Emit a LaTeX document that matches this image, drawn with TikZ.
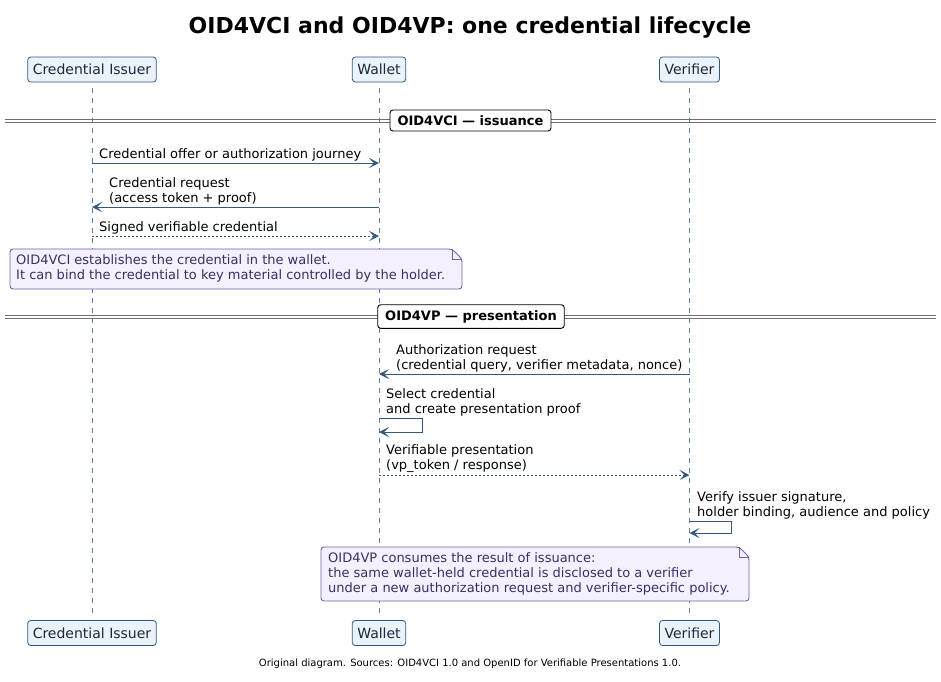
\documentclass[tikz,border=0pt]{standalone}
\usepackage{fontspec}
\setmainfont{DejaVu Sans}
\usetikzlibrary{arrows.meta}
\definecolor{partfill}{HTML}{EAF2FA}
\definecolor{partdraw}{HTML}{2F5883}
\definecolor{parttext}{HTML}{1B2A3A}
\definecolor{lifecol}{HTML}{5A7FA8}
\definecolor{arrcol}{HTML}{35587F}
\definecolor{notefill}{HTML}{F4F0FE}
\definecolor{notedraw}{HTML}{7460A8}
\definecolor{notetext}{HTML}{3C2F63}
\definecolor{divcol}{HTML}{707070}
\tikzset{
  participant/.style={draw=partdraw, fill=partfill, rounded corners=3pt, line width=0.8pt,
    minimum height=25pt, inner xsep=5pt, inner ysep=0pt, text=parttext,
    font=\fontsize{14}{16}\selectfont},
  lifeline/.style={draw=lifecol, line width=0.7pt, dash pattern=on 5pt off 5pt},
  msg/.style={draw=arrcol, line width=1pt, -{Stealth[length=10pt,width=10pt,inset=5pt]}},
  rmsg/.style={msg, dash pattern=on 2pt off 2pt},
  msgtext/.style={anchor=south west, inner sep=0pt, align=left, font=\fontsize{13}{15}\selectfont},
  notetxt/.style={anchor=north west, inner sep=0pt, align=left, text=notetext, font=\fontsize{13}{15.3}\selectfont},
  divlabel/.style={draw=black, fill=white, rounded corners=3pt, line width=0.9pt,
    inner xsep=7.5pt, inner ysep=5.5pt, font=\bfseries\fontsize{13}{15}\selectfont},
  divline/.style={draw=divcol, line width=0.9pt},
  notebox/.style={draw=notedraw, fill=notefill, line width=0.9pt}
}
\begin{document}
\begin{tikzpicture}[x=1pt,y=-1pt]
\useasboundingbox (0,0) rectangle (941,681);
\fill[white] (0,0) rectangle (941,681);

% title
\node[font=\bfseries\fontsize{22}{26}\selectfont] (title) at (470,28) {OID4VCI and OID4VP: one credential lifecycle};

% lifelines
\draw[lifeline] (92,88) -- (92,615);
\draw[lifeline] (379,88) -- (379,615);
\draw[lifeline] (689.5,88) -- (689.5,615);

% participants
\node[participant] (ciT) at (92,69.5) {Credential Issuer};
\node[participant] (wT) at (379,69.5) {Wallet};
\node[participant] (vT) at (689.5,69.5) {Verifier};
\node[participant] (ciB) at (92,633) {Credential Issuer};
\node[participant] (wB) at (379,633) {Wallet};
\node[participant] (vB) at (689.5,633) {Verifier};

% divider 1
\draw[divline] (5,119.5) -- (936,119.5);
\draw[divline] (5,122.5) -- (936,122.5);
\node[divlabel] (d1) at (470.5,120.5) {OID4VCI — issuance};

% messages phase 1
\coordinate (m1a) at (92,163); \coordinate (m1b) at (379,163);
\draw[msg] (m1a) -- (m1b);
\node[msgtext] (t1) at (99,161) {Credential offer or authorization journey};

\coordinate (m2a) at (379,207); \coordinate (m2b) at (92,207);
\draw[msg] (m2a) -- (m2b);
\node[msgtext] (t2) at (109,205) {Credential request\\(access token + proof)};

\coordinate (m3a) at (92,236); \coordinate (m3b) at (379,236);
\draw[rmsg] (m3a) -- (m3b);
\node[msgtext] (t3) at (99,234) {Signed verifiable credential};

% note 1
\draw[notebox, rounded corners=3pt] (10,249) -- (452,249) -- (462,259) -- (462,289) -- (10,289) -- cycle;
\draw[notedraw, line width=0.8pt] (452,249) -- (452,259) -- (462,259);
\node[notetxt] (n1) at (16,254) {OID4VCI establishes the credential in the wallet.\\It can bind the credential to key material controlled by the holder.};

% divider 2
\draw[divline] (5,315.5) -- (936,315.5);
\draw[divline] (5,318.5) -- (936,318.5);
\node[divlabel] (d2) at (471,316.5) {OID4VP — presentation};

% messages phase 2
\coordinate (m4a) at (689.5,374); \coordinate (m4b) at (379,374);
\draw[msg] (m4a) -- (m4b);
\node[msgtext] (t4) at (396,372) {Authorization request\\(credential query, verifier metadata, nonce)};

\coordinate (m5a) at (379,418); \coordinate (m5b) at (379,432);
\draw[msg] (m5a) -- (422,418) -- (422,432) -- (m5b);
\node[msgtext] (t5) at (386,416) {Select credential\\and create presentation proof};

\coordinate (m6a) at (379,475); \coordinate (m6b) at (689.5,475);
\draw[rmsg] (m6a) -- (m6b);
\node[msgtext] (t6) at (386,473) {Verifiable presentation\\(vp\_token / response)};

\coordinate (m7a) at (689.5,521); \coordinate (m7b) at (689.5,533);
\draw[msg] (m7a) -- (731,521) -- (731,533) -- (m7b);
\node[msgtext] (t7) at (697,519) {Verify issuer signature,\\holder binding, audience and policy};

% note 2
\draw[notebox, rounded corners=3pt] (321,547) -- (739,547) -- (749,557) -- (749,601) -- (321,601) -- cycle;
\draw[notedraw, line width=0.8pt] (739,547) -- (739,557) -- (749,557);
\node[notetxt] (n2) at (328,552) {OID4VP consumes the result of issuance:\\the same wallet-held credential is disclosed to a verifier\\under a new authorization request and verifier-specific policy.};

% footer
\node[font=\fontsize{10}{12}\selectfont] (foot) at (470,664) {Original diagram. Sources: OID4VCI 1.0 and OpenID for Verifiable Presentations 1.0.};
\end{tikzpicture}
\end{document}
